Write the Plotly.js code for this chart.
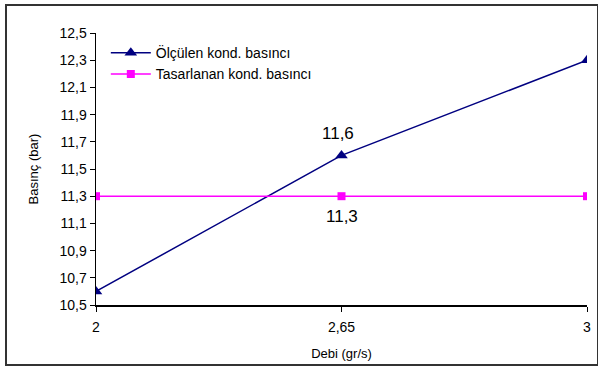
<!DOCTYPE html>
<html><head><meta charset="utf-8">
<script src="https://cdn.plot.ly/plotly-3.0.1.min.js"></script>
<style>
html,body{margin:0;padding:0;background:#fff;}
#wrap{position:relative;width:598px;height:367px;}
#chart{width:598px;height:367px;}
#frame{position:absolute;left:5px;top:4px;width:594px;height:362px;border:2px solid #333;box-sizing:border-box;pointer-events:none;}
</style>
</head><body>
<div id="wrap"><div id="chart"></div><div id="frame"></div></div>
<script>
const categories = ["2", "2,65", "3"];
const olculen = [10.6, 11.6, 12.3];
const tasarlanan = [11.3, 11.3, 11.3];
const yTickVals = [10.5, 10.7, 10.9, 11.1, 11.3, 11.5, 11.7, 11.9, 12.1, 12.3, 12.5];
const yTickText = yTickVals.map(v => v.toFixed(1).replace('.', ','));

const traces = [
  {x: categories, y: olculen, name: "Ölçülen kond. basıncı", type: "scatter", mode: "lines+markers",
   line: {color: "#000080", width: 1.5}, marker: {symbol: "triangle-up", size: 11, color: "#000080"}},
  {x: categories, y: tasarlanan, name: "Tasarlanan kond. basıncı", type: "scatter", mode: "lines+markers",
   line: {color: "#FF00FF", width: 1.5}, marker: {symbol: "square", size: 8, color: "#FF00FF"}}
];

const layout = {
  width: 598, height: 367,
  margin: {l: 96, r: 11, t: 33, b: 62},
  paper_bgcolor: "#fff", plot_bgcolor: "#fff",
  font: {family: "Liberation Sans, Arial, sans-serif", color: "#000", size: 14},
  showlegend: true,
  legend: {x: 0.02, y: 0.985, xanchor: "left", yanchor: "top", bgcolor: "rgba(0,0,0,0)",
           font: {size: 14}, itemwidth: 40, tracegroupgap: 0},
  xaxis: {type: "category", range: [0, 2], showline: true, linecolor: "#000", linewidth: 1.5,
          ticks: "outside", ticklen: 5, tickcolor: "#000", showgrid: false, zeroline: false,
          tickfont: {size: 14}, ticklabelstandoff: 4,
          title: {text: "Debi (gr/s)", font: {size: 13}, standoff: 14}},
  yaxis: {range: [10.5, 12.5], tickvals: yTickVals, ticktext: yTickText, showline: true, linecolor: "#000", linewidth: 1.5,
          ticks: "outside", ticklen: 5, tickcolor: "#000", showgrid: false, zeroline: false,
          tickfont: {size: 14},
          title: {text: "Basınç (bar)", font: {size: 13}, standoff: 18}},
  annotations: [
    {x: categories[1], y: olculen[1], text: olculen[1].toFixed(1).replace('.', ','), showarrow: false,
     xshift: -4, yshift: 22, font: {size: 17}},
    {x: categories[1], y: tasarlanan[1], text: tasarlanan[1].toFixed(1).replace('.', ','), showarrow: false,
     xshift: 0, yshift: -20, font: {size: 17}}
  ]
};
Plotly.newPlot("chart", traces, layout, {displayModeBar: false, staticPlot: true});
</script>
</body></html>
